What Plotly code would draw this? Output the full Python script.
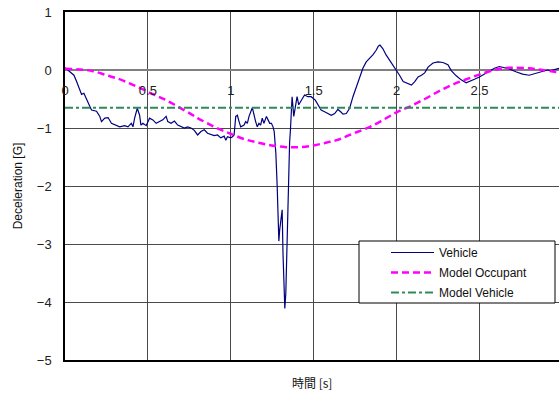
import plotly.graph_objects as go

# ---- data ----
vehicle_t = [0.0, 0.03, 0.054, 0.07, 0.086, 0.10, 0.114, 0.13, 0.15, 0.16, 0.19, 0.21, 0.22, 0.24, 0.26,
             0.28, 0.31, 0.33, 0.36, 0.38, 0.40, 0.41, 0.42, 0.436, 0.45, 0.458, 0.47, 0.49, 0.51, 0.53,
             0.55, 0.57, 0.59, 0.61, 0.62, 0.64, 0.66, 0.68, 0.70, 0.72, 0.74, 0.76, 0.78, 0.80, 0.82,
             0.84, 0.86, 0.88, 0.90, 0.92, 0.94, 0.96, 0.97, 0.98, 1.00, 1.01, 1.02, 1.03, 1.04, 1.05,
             1.06, 1.08, 1.09, 1.10, 1.11, 1.13, 1.14, 1.15, 1.16, 1.17, 1.18, 1.19, 1.20, 1.215, 1.225,
             1.235, 1.245, 1.255, 1.262, 1.268, 1.272, 1.28, 1.285, 1.29, 1.295, 1.305, 1.31, 1.315, 1.32,
             1.326, 1.332, 1.337, 1.342, 1.346, 1.35, 1.355, 1.36, 1.366, 1.37, 1.38, 1.39, 1.40, 1.41,
             1.425, 1.445, 1.465, 1.485, 1.51, 1.525, 1.545, 1.566, 1.586, 1.606, 1.627, 1.646, 1.663,
             1.677, 1.697, 1.717, 1.737, 1.757, 1.777, 1.797, 1.817, 1.837, 1.857, 1.877, 1.89, 1.90,
             1.917, 1.937, 1.958, 1.978, 1.998, 2.018, 2.04, 2.07, 2.09, 2.11, 2.13, 2.15, 2.17, 2.19,
             2.22, 2.25, 2.28, 2.31, 2.33, 2.36, 2.39, 2.42, 2.44, 2.47, 2.50, 2.53, 2.56, 2.59, 2.62,
             2.65, 2.68, 2.72, 2.76, 2.80, 2.84, 2.88, 2.91, 2.93, 2.95, 2.98]
vehicle_g = [0.04, -0.03, -0.09, -0.20, -0.32, -0.42, -0.40, -0.49, -0.63, -0.69, -0.71, -0.80, -0.89, -0.83, -0.82,
             -0.92, -0.96, -0.98, -0.96, -0.98, -0.92, -0.98, -0.83, -0.66, -0.78, -0.95, -0.92, -0.96, -0.83, -0.86,
             -0.92, -0.89, -0.86, -0.80, -0.89, -0.92, -0.88, -0.95, -0.98, -1.00, -0.98, -1.00, -1.04, -1.12, -1.06,
             -1.03, -1.09, -1.11, -1.13, -1.12, -1.17, -1.14, -1.21, -1.15, -1.17, -1.15, -1.12, -0.80, -0.78, -0.89,
             -0.98, -0.95, -0.89, -0.92, -0.80, -0.65, -0.80, -0.89, -0.98, -0.92, -0.95, -0.83, -0.92, -0.80, -0.86,
             -0.92, -0.92, -0.98, -1.06, -1.25, -1.44, -2.01, -2.59, -2.95, -2.76, -2.44, -2.41, -3.16, -3.85,
             -4.11, -3.85, -3.16, -2.59, -2.01, -1.44, -1.24, -1.03, -0.78, -0.46, -0.80, -0.60, -0.46, -0.60,
             -0.52, -0.43, -0.46, -0.46, -0.52, -0.59, -0.69, -0.72, -0.75, -0.78, -0.75, -0.68, -0.72,
             -0.76, -0.75, -0.66, -0.46, -0.29, -0.12, 0.03, 0.14, 0.20, 0.26, 0.34, 0.41, 0.43,
             0.37, 0.26, 0.17, 0.09, 0.00, -0.09, -0.20, -0.24, -0.26, -0.20, -0.12, -0.09, -0.05, 0.05,
             0.12, 0.14, 0.13, 0.09, -0.01, -0.10, -0.17, -0.22, -0.20, -0.16, -0.12, -0.07, -0.02, 0.03, 0.06,
             0.04, 0.02, -0.03, -0.07, -0.09, -0.06, -0.02, 0.00, -0.01, 0.01, 0.03]

occupant_t = [0.0, 0.09, 0.17, 0.25, 0.32, 0.39, 0.46, 0.54, 0.61, 0.68, 0.76, 0.80, 0.86, 0.93, 1.00,
              1.08, 1.16, 1.245, 1.335, 1.415, 1.50, 1.58, 1.64, 1.70, 1.77, 1.84, 1.92, 2.00, 2.08,
              2.17, 2.26, 2.34, 2.44, 2.53, 2.62, 2.70, 2.80, 2.88, 2.98]
occupant_g = [0.02, 0.01, -0.02, -0.09, -0.15, -0.23, -0.32, -0.43, -0.52, -0.63, -0.76, -0.83, -0.92, -1.02, -1.10,
              -1.19, -1.25, -1.30, -1.33, -1.33, -1.30, -1.25, -1.21, -1.14, -1.06, -0.98, -0.86, -0.73, -0.63,
              -0.50, -0.36, -0.25, -0.14, -0.05, 0.02, 0.04, 0.03, 0.00, -0.04]

model_vehicle_t = [0.0, 2.98]
model_vehicle_g = [-0.65, -0.65]

x_ticks = [0, 0.5, 1, 1.5, 2, 2.5]
x_tick_labels = ["0", "0.5", "1", "1.5", "2", "2.5"]
y_ticks = [1, 0, -1, -2, -3, -4, -5]
y_tick_labels = ["1", "0", "\u22121", "\u22122", "\u22123", "\u22124", "\u22125"]

FONT = "Liberation Sans, Arial, sans-serif"
GRID = "#4a4a4a"

fig = go.Figure()
fig.add_trace(go.Scatter(x=vehicle_t, y=vehicle_g, mode="lines", name="Vehicle", legendgroup="a",
                         line=dict(color="#000080", width=1.2)))
fig.add_trace(go.Scatter(x=occupant_t, y=occupant_g, mode="lines", name="Model Occupant", legendgroup="b",
                         line=dict(color="#ff00ff", width=2.5, dash="7px,4px"), line_shape="spline"))
fig.add_trace(go.Scatter(x=model_vehicle_t, y=model_vehicle_g, mode="lines", name="Model Vehicle",
                         legendgroup="c",
                         line=dict(color="#2e8b57", width=2, dash="8px,3px,3px,3px")))

fig.update_layout(
    width=559, height=394,
    margin=dict(l=65, r=0, t=12, b=34),
    paper_bgcolor="white", plot_bgcolor="white",
    font=dict(family=FONT, size=12, color="#111"),
    showlegend=True,
    legend=dict(x=(386 - 65) / 494, y=(360 - 238) / 348, xanchor="left", yanchor="top",
                bgcolor="rgba(0,0,0,0)", borderwidth=0,
                font=dict(family=FONT, size=12, color="#111"),
                itemwidth=43, tracegroupgap=1),
    xaxis=dict(range=[0, 2.98], tickvals=x_ticks, ticktext=x_tick_labels,
               anchor="free", position=5/6, showline=False, zeroline=False,
               showgrid=True, gridcolor=GRID, gridwidth=1, ticks="",
               tickfont=dict(family=FONT, size=13, color="#222"),
               ticklabelstandoff=11),
    xaxis2=dict(range=[0, 2.98], overlaying="x", anchor="y", side="bottom",
                showline=True, mirror=True, linecolor="black", linewidth=1.5,
                showgrid=False, zeroline=False, showticklabels=False, ticks=""),
    yaxis=dict(range=[-5, 1], tickvals=y_ticks, ticktext=y_tick_labels,
               showline=True, linecolor="black", linewidth=1.5,
               showgrid=True, gridcolor=GRID, gridwidth=1,
               zeroline=True, zerolinecolor="#808080", zerolinewidth=2,
               ticks="", ticklabelstandoff=9,
               tickfont=dict(family=FONT, size=13, color="#222"),
               title=dict(text="Deceleration [G]", standoff=12,
                          font=dict(family=FONT, size=12, color="#111"))),
)
# invisible trace to activate xaxis2
fig.add_trace(go.Scatter(x=[0], y=[0], xaxis="x2", yaxis="y", mode="markers",
                         marker=dict(opacity=0), showlegend=False, hoverinfo="skip"))

# legend frame
fig.add_shape(type="rect", xref="paper", yref="paper",
              x0=(359 - 65) / 494, x1=(555 - 65) / 494,
              y0=(360 - 303) / 348, y1=(360 - 241) / 348,
              fillcolor="white", line=dict(color="black", width=1), layer="above")

fig.add_annotation(text="時間 [s]", xref="paper", yref="paper", x=0.5, y=0,
                   yshift=-22, yanchor="middle", showarrow=False,
                   font=dict(family="Noto Sans CJK JP, " + FONT, size=12, color="#111"))

fig.write_html("out.html", config={"displayModeBar": False},
               post_script="document.body.style.margin='0';")
